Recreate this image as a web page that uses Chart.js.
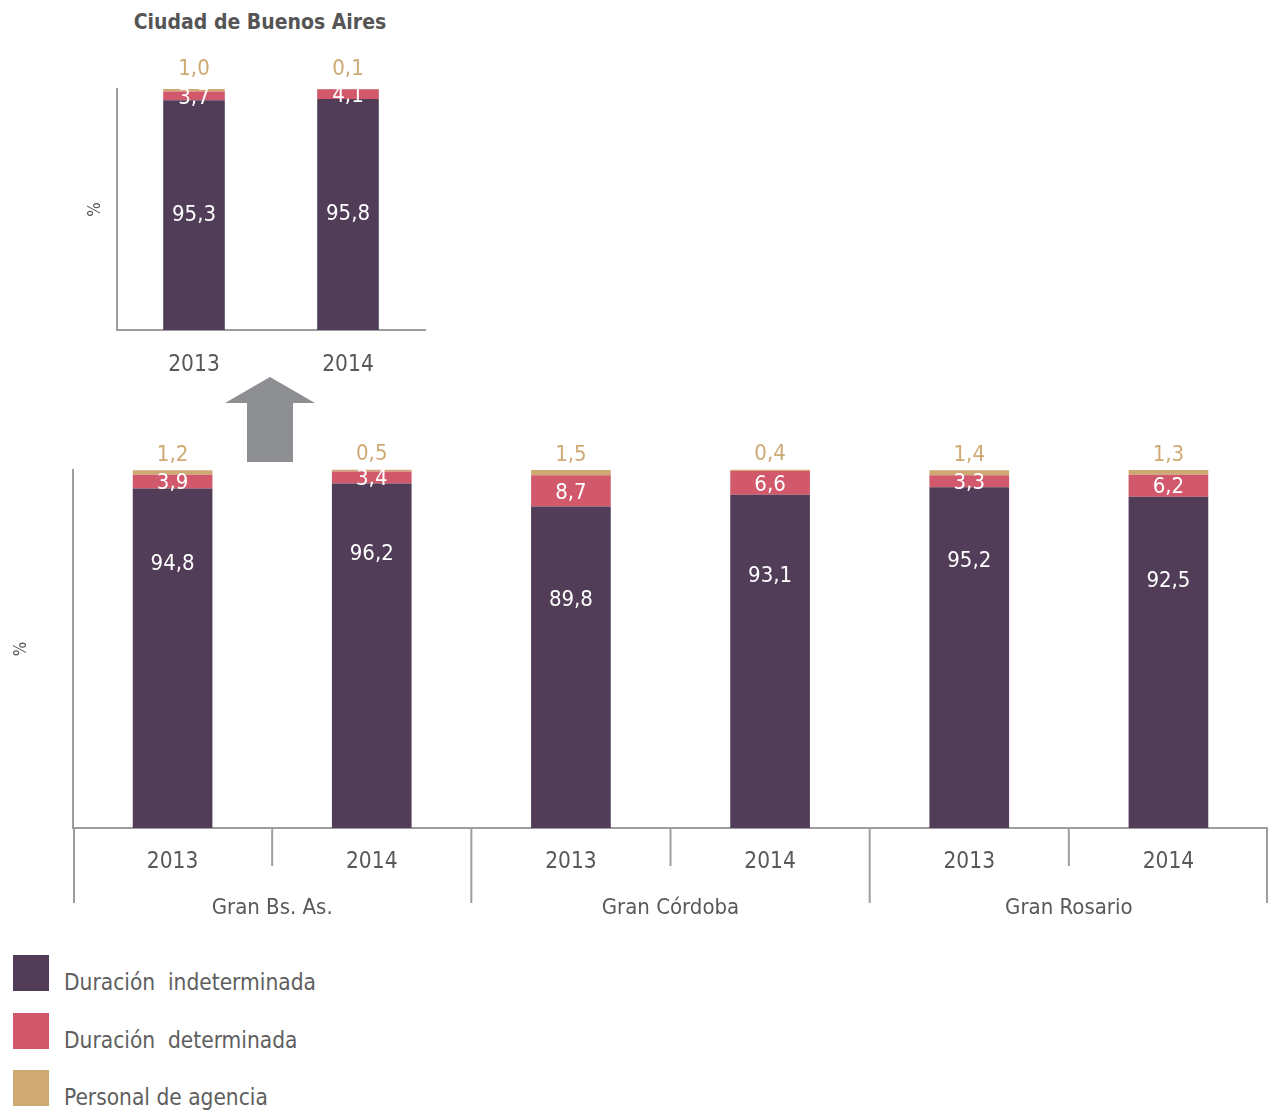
<!DOCTYPE html>
<html>
<head>
<meta charset="utf-8">
<script src="https://cdn.jsdelivr.net/npm/chart.js@4.4.1/dist/chart.umd.min.js"></script>
<style>
  html, body { margin:0; padding:0; background:#fff; }
  body { width:1268px; height:1111px; position:relative; overflow:hidden;
         font-family:"Liberation Sans Narrow","DejaVu Sans Condensed","Noto Sans",sans-serif; color:#595959; }
  #inset { position:absolute; left:0; top:0; }
  #main { position:absolute; left:0; top:440px; }
  #title { position:absolute; left:60px; width:400px; top:10px; text-align:center; font-weight:bold; font-size:21px; color:#555; }
  #arrow { position:absolute; left:0; top:0; }
  .sw { position:absolute; left:13px; width:36px; height:36px; }
  .lt { position:absolute; left:64px; font-size:22.5px; white-space:pre; color:#5e5e5e; line-height:30px; }
</style>
</head>
<body>
<div id="title">Ciudad de Buenos Aires</div>
<canvas id="inset" width="440" height="380"></canvas>
<canvas id="main" width="1268" height="490"></canvas>
<svg id="arrow" width="400" height="470"><polygon points="225,403 270,377 315,403 293,403 293,462 247,462 247,403" fill="#8E8F93"/></svg>
<div id="legend"></div>
<script>
// ---- data ----
const regions = ['Gran Bs. As.', 'Gran Córdoba', 'Gran Rosario'];
const mainYears = ['2013', '2014', '2013', '2014', '2013', '2014'];
const indeterminada = [94.8, 96.2, 89.8, 93.1, 95.2, 92.5];
const determinada = [3.9, 3.4, 8.7, 6.6, 3.3, 6.2];
const agencia = [1.2, 0.5, 1.5, 0.4, 1.4, 1.3];

const cabaYears = ['2013', '2014'];
const cabaIndeterminada = [95.3, 95.8];
const cabaDeterminada = [3.7, 4.1];
const cabaAgencia = [1.0, 0.1];

const seriesNames = ['Duración  indeterminada', 'Duración  determinada', 'Personal de agencia'];
const seriesColors = ['#513D57', '#D2596B', '#CFA974'];

// ---- helpers ----
const FONT = '"Liberation Sans Narrow","DejaVu Sans Condensed","Noto Sans",sans-serif';
const TEXT = '#595959';
const AXIS = '#9d9d9d';
const fmt = v => v.toFixed(1).replace('.', ',');

function makeDatasets(a, b, c) {
  return [a, b, c].map((d, i) => ({
    label: seriesNames[i], data: d, backgroundColor: seriesColors[i],
    categoryPercentage: 1, barPercentage: 0.4, clip: false
  }));
}

const valuePlugin = {
  id: 'vals',
  afterDatasetsDraw(chart, args, opts) {
    const ctx = chart.ctx, ys = chart.scales.y;
    ctx.save();
    ctx.font = '22px ' + FONT;
    ctx.textAlign = 'center';
    ctx.textBaseline = 'middle';
    chart.data.datasets.forEach((ds, di) => {
      const meta = chart.getDatasetMeta(di);
      meta.data.forEach((bar, i) => {
        const v = ds.data[i];
        let py;
        if (di === 0) {
          ctx.fillStyle = '#fff';
          py = opts.centered ? (bar.y + bar.base) / 2 : ys.getPixelForValue(v - (116 - v));
        } else if (di === 1) {
          ctx.fillStyle = '#fff';
          py = (bar.y + bar.base) / 2 + 2;
        } else {
          ctx.fillStyle = '#CFA974';
          py = bar.y - opts.gap;
        }
        ctx.fillText(fmt(v), bar.x, py);
      });
    });
    ctx.restore();
  }
};

const groupPlugin = {
  id: 'groups',
  afterDraw(chart) {
    const xs = chart.scales.x, ctx = chart.ctx, area = chart.chartArea;
    const n = chart.data.labels.length;
    const step = xs.getPixelForValue(1) - xs.getPixelForValue(0);
    ctx.save();
    ctx.strokeStyle = AXIS;
    ctx.lineWidth = 2;
    for (let i = 0; i <= n; i++) {
      let px = xs.getPixelForValue(0) - step / 2 + i * step;
      if (i === 0) px += 1;
      if (i === n) px -= 1;
      const long = i % 2 === 0;
      ctx.beginPath();
      ctx.moveTo(px, area.bottom);
      ctx.lineTo(px, area.bottom + (long ? 75 : 38));
      ctx.stroke();
    }
    ctx.fillStyle = TEXT;
    ctx.font = '22px ' + FONT;
    ctx.textAlign = 'center';
    ctx.textBaseline = 'middle';
    regions.forEach((r, g) => {
      const cx = xs.getPixelForValue(0) - step / 2 + (2 * g + 1) * step;
      ctx.fillText(r, cx, area.bottom + 80);
    });
    ctx.restore();
  }
};

function baseOptions(cfg) {
  return {
    responsive: false,
    animation: false,
    devicePixelRatio: 1,
    layout: { padding: cfg.padding },
    plugins: { legend: { display: false }, tooltip: { enabled: false }, vals: cfg.vals },
    scales: {
      x: {
        stacked: true,
        grid: { display: false, drawTicks: false },
        border: { display: true, color: AXIS, width: 2 },
        ticks: { color: TEXT, font: { family: FONT, size: 22.5 }, padding: cfg.tickPad, maxRotation: 0, autoSkip: false },
        afterFit: s => { s.height = cfg.xHeight; }
      },
      y: {
        stacked: true, min: 0, max: 100,
        grid: { display: false, drawTicks: false },
        border: { display: true, color: AXIS, width: 2 },
        ticks: { display: false },
        title: { display: true, text: '%', color: '#555', font: { family: FONT, size: 17 }, padding: { top: cfg.titlePad, bottom: 0 } },
        afterFit: s => { s.width = cfg.yWidth; }
      }
    }
  };
}

new Chart(document.getElementById('inset'), {
  type: 'bar',
  data: { labels: cabaYears, datasets: makeDatasets(cabaIndeterminada, cabaDeterminada, cabaAgencia) },
  options: baseOptions({ padding: { top: 89, right: 15, left: 0, bottom: 0 }, xHeight: 50, yWidth: 117, titlePad: 85, tickPad: 22, vals: { centered: true, gap: 20 } }),
  plugins: [valuePlugin]
});

new Chart(document.getElementById('main'), {
  type: 'bar',
  data: { labels: mainYears, datasets: makeDatasets(indeterminada, determinada, agencia) },
  options: baseOptions({ padding: { top: 30, right: 0, left: 0, bottom: 0 }, xHeight: 102, yWidth: 73, titlePad: 11, tickPad: 21, vals: { centered: false, gap: 15 } }),
  plugins: [valuePlugin, groupPlugin]
});

// ---- legend ----
const legend = document.getElementById('legend');
const legTops = [955, 1013, 1070];
seriesNames.forEach((name, i) => {
  const sw = document.createElement('div');
  sw.className = 'sw';
  sw.style.top = legTops[i] + 'px';
  sw.style.background = seriesColors[i];
  legend.appendChild(sw);
  const t = document.createElement('div');
  t.className = 'lt';
  t.style.top = (legTops[i] + 12) + 'px';
  t.textContent = name;
  legend.appendChild(t);
});
</script>
</body>
</html>
